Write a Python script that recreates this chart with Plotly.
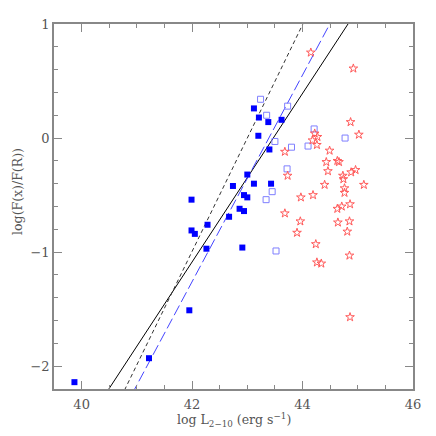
import plotly.graph_objects as go
import numpy as np

# Filled blue squares
blue_x = [39.87, 41.22, 41.95, 41.99, 41.99, 42.05, 42.28, 42.26, 42.67, 42.74, 42.86, 42.94,
          42.91, 43.00, 43.12, 43.43, 42.94, 43.00, 43.12, 43.21, 43.38, 43.62, 43.20, 43.40]
blue_y = [-2.14, -1.93, -1.51, -0.54, -0.81, -0.84, -0.76, -0.97, -0.69, -0.42, -0.62, -0.64,
          -0.96, -0.32, -0.40, -0.40, -0.50, -0.52, 0.26, 0.18, 0.14, 0.16, 0.02, -0.10]

# Open light-blue squares
open_x = [43.24, 43.35, 43.73, 44.21, 44.77, 43.50, 43.80, 44.10, 43.72, 43.45, 43.34, 43.52]
open_y = [0.34, 0.20, 0.28, 0.08, 0.00, -0.03, -0.08, -0.07, -0.27, -0.47, -0.54, -0.99]

# Red stars
red_x = [44.15, 44.92, 44.87, 45.02, 44.22, 44.27, 44.26, 44.18, 43.68, 44.49, 44.63, 44.66,
         44.43, 44.46, 44.73, 44.74, 44.88, 44.96, 43.73, 44.40, 44.76, 44.76, 45.11, 43.97,
         44.19, 44.63, 44.71, 44.86, 43.68, 43.96, 44.64, 44.85, 43.90, 44.81, 44.24, 44.85,
         44.26, 44.34, 44.86]
red_y = [0.75, 0.61, 0.14, 0.03, 0.04, 0.01, -0.06, -0.02, -0.12, -0.11, -0.20, -0.21,
         -0.21, -0.29, -0.33, -0.36, -0.30, -0.28, -0.33, -0.41, -0.44, -0.48, -0.41, -0.52,
         -0.50, -0.62, -0.60, -0.58, -0.66, -0.73, -0.74, -0.73, -0.83, -0.82, -0.93, -1.03,
         -1.09, -1.10, -1.57]

# Fit lines: y = slope * (x - x_zero)
line_slopes = [0.739, 0.994, 0.906]
line_zeros = [43.47, 43.00, 43.39]
line_colors = ["black", "#333333", "#4444ff"]
line_dashes = ["solid", "4px,3px", "11px,4px"]

x_range = [39.5, 46]
y_range = [-2.2, 1]
x_ticks = [40, 42, 44, 46]
y_ticks = [-2, -1, 0, 1]

fig = go.Figure()

xs = np.array(x_range)
for s, z, c, d in zip(line_slopes, line_zeros, line_colors, line_dashes):
    fig.add_trace(go.Scatter(x=xs, y=s * (xs - z), mode="lines",
                             line=dict(color=c, width=1, dash=d), showlegend=False,
                             hoverinfo="skip"))

fig.add_trace(go.Scatter(x=blue_x, y=blue_y, mode="markers",
                         marker=dict(symbol="square", size=6, color="#0000ff"),
                         showlegend=False))
fig.add_trace(go.Scatter(x=open_x, y=open_y, mode="markers",
                         marker=dict(symbol="square-open", size=6, color="#7f7fff",
                                     line=dict(width=1)),
                         showlegend=False))
fig.add_trace(go.Scatter(x=red_x, y=red_y, mode="markers",
                         marker=dict(symbol="star-open", size=6.5, color="#ff5a5a",
                                     line=dict(width=1)),
                         showlegend=False))

font = dict(family="DejaVu Serif, Liberation Serif, serif", size=13, color="#555555")
tfont = dict(family="DejaVu Serif, Liberation Serif, serif", size=12.5, color="#555555")
axis_common = dict(showgrid=False, zeroline=False, showline=True, linecolor="#888888",
                   linewidth=1.5, mirror="ticks", ticks="inside", ticklen=8, tickcolor="#888888",
                   tickwidth=1, tickfont=font, automargin=False)

fig.update_xaxes(range=x_range, tickvals=x_ticks, ticktext=[str(v) for v in x_ticks],
                 minor=dict(dtick=0.5, ticks="inside", ticklen=4, tickcolor="#888888"),
                 ticklabelstandoff=3, **axis_common)
fig.update_yaxes(range=y_range, tickvals=y_ticks,
                 ticktext=[str(v).replace("-", "−") for v in y_ticks],
                 minor=dict(dtick=0.2, ticks="inside", ticklen=4, tickcolor="#888888"),
                 **axis_common)

fig.add_annotation(text="log L<sub>2−10</sub> (erg s<sup>−1</sup>)", xref="paper", yref="paper",
                   x=0.5, y=0, yshift=-31, xanchor="center", yanchor="middle",
                   showarrow=False, font=tfont)
fig.add_annotation(text="log(F(x)/F(R))", xref="paper", yref="paper",
                   x=0, xshift=-36, y=0.54, xanchor="center", yanchor="middle",
                   textangle=-90, showarrow=False, font=tfont)

# The page body has an 8px default margin; the figure is sized and placed to compensate.
fig.update_layout(width=420, height=420, plot_bgcolor="white", paper_bgcolor="white",
                  margin=dict(l=46, r=15, t=16, b=39, autoexpand=False), font=font)

fig.write_html("out.html")
